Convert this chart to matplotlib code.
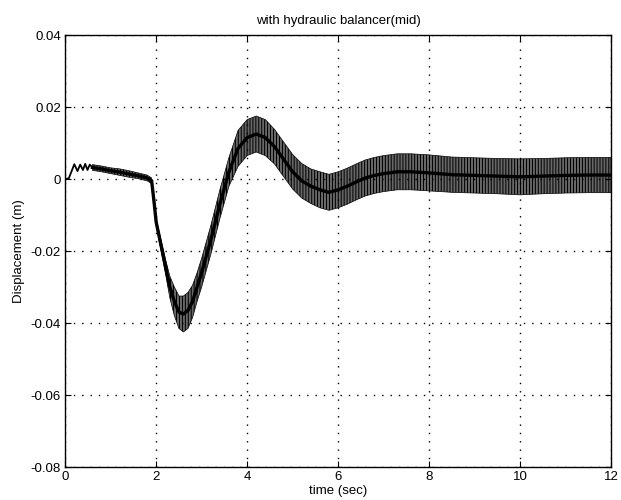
import matplotlib.pyplot as plt
import numpy as np

plt.rcParams['font.family'] = ['Liberation Sans', 'DejaVu Sans']
plt.rcParams['hatch.linewidth'] = 0.8

# start-up wiggle: peaks and troughs of the first few cycles
t_start = [0.0, 0.08, 0.20, 0.27, 0.33, 0.39, 0.44, 0.49, 0.54, 0.60]
y_start = [0.0, 0.0002, 0.0041, 0.0022, 0.0040, 0.0025, 0.0042, 0.0025, 0.0040, 0.0032]

# centre of the fast oscillation and its half-width (envelope)
t_env = [0.6, 0.8, 1.0, 1.2, 1.4, 1.6, 1.8, 1.9, 1.95, 2.0, 2.1, 2.2, 2.3, 2.4,
         2.5, 2.6, 2.7, 2.8, 2.9, 3.0, 3.2, 3.4, 3.6, 3.8, 4.0, 4.2, 4.4, 4.6,
         4.8, 5.0, 5.2, 5.4, 5.6, 5.8, 6.0, 6.2, 6.4, 6.6, 6.8, 7.0, 7.3, 7.6,
         8.0, 8.5, 9.0, 9.5, 10.0, 10.5, 11.0, 11.5, 12.0]
y_mid = [0.0032, 0.0028, 0.0023, 0.0019, 0.0014, 0.0009, 0.0003, -0.0005, -0.006,
         -0.012, -0.018, -0.024, -0.030, -0.034, -0.037, -0.0375, -0.0365, -0.034,
         -0.030, -0.026, -0.017, -0.007, 0.002, 0.0085, 0.0115, 0.0125, 0.0115,
         0.009, 0.0055, 0.002, -0.0005, -0.002, -0.003, -0.0037, -0.003, -0.002,
         -0.0008, 0.0003, 0.001, 0.0015, 0.002, 0.002, 0.0017, 0.0012, 0.001,
         0.0008, 0.0006, 0.0008, 0.001, 0.0011, 0.0011]
half_w = [0.0008, 0.0008, 0.0008, 0.0009, 0.0009, 0.0008, 0.0008, 0.0008, 0.001,
          0.001, 0.0015, 0.002, 0.003, 0.004, 0.0045, 0.005, 0.005, 0.0045, 0.004,
          0.004, 0.004, 0.004, 0.004, 0.005, 0.005, 0.005, 0.005, 0.0048, 0.0048,
          0.0048, 0.0048, 0.0048, 0.005, 0.005, 0.005, 0.005, 0.005, 0.005, 0.005,
          0.005, 0.005, 0.005, 0.005, 0.0049, 0.0049, 0.0049, 0.005, 0.0049, 0.0049,
          0.0049, 0.0049]

t_env = np.array(t_env)
y_mid = np.array(y_mid)
half_w = np.array(half_w)

fig = plt.figure(figsize=(6.21, 5.0), dpi=100)
ax = fig.add_axes([0.105, 0.066, 0.879, 0.864])

# oscillation band drawn as dense vertical strokes
ax.fill_between(t_env, y_mid - half_w, y_mid + half_w, facecolor='none',
                edgecolor='black', hatch='|' * 11, linewidth=0.5, zorder=3)
ax.plot(t_env, y_mid, color='black', linewidth=2.4, zorder=4)
ax.plot(t_start, y_start, color='black', linewidth=1.3, zorder=4)

ax.set_xlim(0, 12)
ax.set_ylim(-0.08, 0.04)
ax.set_xticks(np.arange(0, 13, 2))
ax.set_yticks([-0.08, -0.06, -0.04, -0.02, 0, 0.02, 0.04])
ax.set_yticklabels(['-0.08', '-0.06', '-0.04', '-0.02', '0', '0.02', '0.04'])

ax.grid(True, color='black', linestyle=(0, (1, 5)), linewidth=1.0)
ax.tick_params(direction='in', top=True, right=True, length=4, width=0.8,
               labelsize=9.5, pad=3)
for s in ax.spines.values():
    s.set_linewidth(1.0)

ax.set_title('with hydraulic balancer(mid)', fontsize=9.5, pad=8)
ax.set_xlabel('time (sec)', fontsize=9.5, labelpad=1)
ax.set_ylabel('Displacement (m)', fontsize=9.5, labelpad=4)

plt.savefig('out.png', dpi=100)
